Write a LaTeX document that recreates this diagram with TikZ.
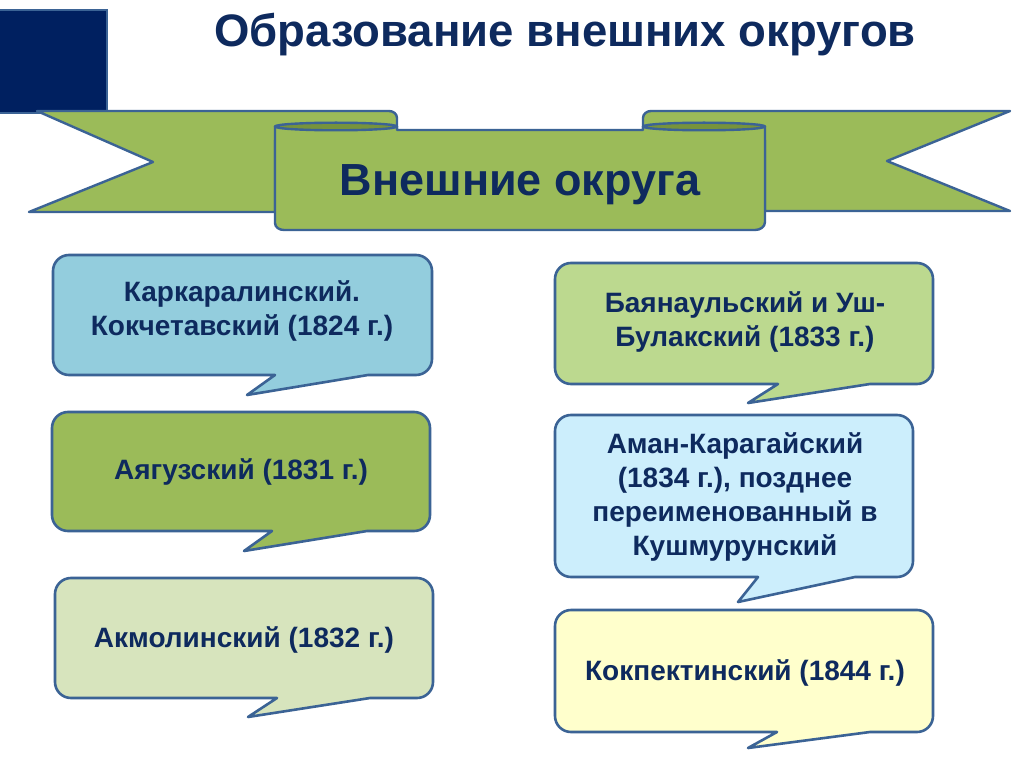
\documentclass[tikz,border=0pt]{standalone}
\usepackage{fontspec}
\setmainfont{Liberation Sans}
\definecolor{navy}{HTML}{0E2A5E}
\definecolor{sqfill}{HTML}{002060}
\definecolor{edge}{HTML}{3B6395}
\definecolor{rib}{HTML}{9BBB59}
\definecolor{ribdark}{HTML}{77933C}
\definecolor{cblue}{HTML}{93CDDD}
\definecolor{cgreen}{HTML}{9BBB59}
\definecolor{cpale}{HTML}{D7E4BD}
\definecolor{clime}{HTML}{BCD98F}
\definecolor{ccyan}{HTML}{CCEEFC}
\definecolor{cyellow}{HTML}{FFFFCC}
\newcommand\mycallout[9]{%
  \draw[boxline, fill=#9] (#1,#2-16) arc[start angle=180,end angle=90,radius=16]
    -- (#3-16,#2) arc[start angle=90,end angle=0,radius=16]
    -- (#3,#4+16) arc[start angle=0,end angle=-90,radius=16]
    -- (#6,#4) -- (#7,#8) -- (#5,#4)
    -- (#1+16,#4) arc[start angle=270,end angle=180,radius=16] -- cycle;}
\begin{document}
\begin{tikzpicture}[x=1pt,y=1pt,
  boxline/.style={draw=edge, line width=2.6pt, line join=round},
  ribline/.style={draw=edge, line width=2.4pt, line join=round, fill=rib},
  boxtext/.style={text=navy, font=\bfseries\fontsize{28}{34}\selectfont, align=center, inner sep=0pt}]
\useasboundingbox (0,0) rectangle (1024,-767);
\fill[white] (0,0) rectangle (1024,-767);
% dark square
\draw[draw=edge, line width=2pt, fill=sqfill] (-3,-10) rectangle (107,-113);
% title
\node[text=navy, font=\bfseries\fontsize{45.5}{50}\selectfont, inner sep=0pt] (title) at (565,-35) {Образование внешних округов};
% ribbon tails
\draw[ribline] (29,-212) -- (153,-162) -- (37,-111) -- (389,-111) to[out=0,in=90] (397,-118) -- (397,-140) -- (275,-140) -- (275,-212) -- cycle;
\draw[ribline] (765,-211) -- (1010,-211) -- (887,-161) -- (1010,-111) -- (651,-111) to[out=180,in=90] (643,-118) -- (643,-140) -- (765,-140) -- cycle;
% front panel
\draw[ribline] (275,-126.5) -- (275,-223) to[out=-90,in=180] (284,-230) -- (755,-230) to[out=0,in=-90] (765,-222) -- (765,-126.5) -- (643,-126.5) -- (643,-130) -- (397,-130) -- (397,-126.5) -- cycle;
\draw[ribline, fill=ribdark] (336,-126.5) ellipse[x radius=61, y radius=3.8];
\draw[ribline, fill=ribdark] (704,-126.5) ellipse[x radius=61, y radius=3.8];
\node[text=navy, font=\bfseries\fontsize{45}{50}\selectfont, inner sep=0pt] (ribbonlabel) at (520,-185) {Внешние округа};
% callouts
\mycallout{53}{-255}{432}{-375}{275}{368}{247}{-395}{cblue}
\node[boxtext] (k1) at (242,-311) {Каркаралинский.\\Кокчетавский (1824 г.)};
\mycallout{52}{-412}{430}{-531}{272}{367}{244}{-551}{cgreen}
\node[boxtext] (k2) at (241,-472) {Аягузский (1831 г.)};
\mycallout{55}{-578}{433}{-698}{277}{370}{248}{-717}{cpale}
\node[boxtext] (k3) at (244,-640) {Акмолинский (1832 г.)};
\mycallout{555}{-263}{933}{-384}{778}{870}{748}{-403}{clime}
\node[boxtext] (k4) at (745,-322) {Баянаульский и Уш-\\Булакский (1833 г.)};
\mycallout{555}{-415}{913}{-577}{758}{855}{738}{-602}{ccyan}
\node[boxtext] (k5) at (735,-497) {Аман-Карагайский\\(1834 г.), позднее\\переименованный в\\Кушмурунский};
\mycallout{555}{-610}{933}{-732}{777}{870}{748}{-748}{cyellow}
\node[boxtext] (k6) at (745,-673) {Кокпектинский (1844 г.)};
\end{tikzpicture}
\end{document}
